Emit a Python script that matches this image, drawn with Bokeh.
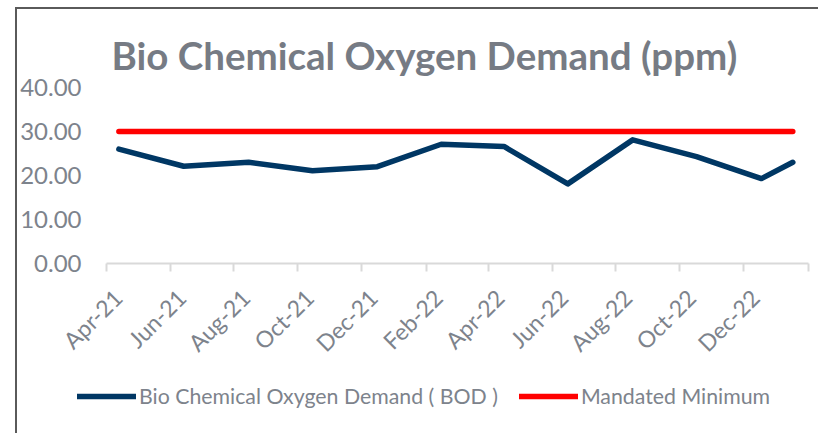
import pandas as pd
from bokeh.plotting import figure
from bokeh.models import (FixedTicker, DatetimeTickFormatter, DatetimeAxis, Legend, LegendItem,
                          Range1d, NumeralTickFormatter)
from bokeh.layouts import column
from bokeh.embed import file_html
from bokeh.resources import INLINE

# ---- data ----
dates = ["2021-04-13", "2021-06-14", "2021-08-15", "2021-10-15", "2021-12-16", "2022-02-15",
         "2022-04-16", "2022-06-16", "2022-08-17", "2022-10-17", "2022-12-18", "2023-01-17"]
bod = [26.0, 22.1, 23.0, 21.1, 22.0, 27.1, 26.6, 18.1, 28.1, 24.3, 19.3, 23.0]
mandated = [30, 30, 30, 30, 30, 30, 30, 30, 30, 30, 30, 30]
tick_dates = ["2021-04-01", "2021-06-01", "2021-08-01", "2021-10-01", "2021-12-01", "2022-02-01",
              "2022-04-01", "2022-06-01", "2022-08-01", "2022-10-01", "2022-12-01"]
end_tick = "2023-02-01"
y_ticks = [0, 10, 20, 30, 40]

title_text = "Bio Chemical Oxygen Demand (ppm)"
bod_name = "Bio Chemical Oxygen Demand ( BOD )"
min_name = "Mandated Minimum"

x = pd.to_datetime(dates)
to_ms = lambda s: pd.Timestamp(s).value / 1e6
DAY = 86400000.0

FONT = "Lato"
GRAY = "#7d838c"
NAVY = "#003764"
RED = "#ff0000"
BORDER = "2px solid #5a5a5a"

# the plot frame reaches a little left of the axis start so that the legend strip
# underneath (whose frame is aligned with this one) has room on the left
LEFT_PAD_DAYS = 39
x_start = to_ms(tick_dates[0]) - LEFT_PAD_DAYS * DAY
x_end = to_ms(end_tick)

p = figure(width=803, height=360, output_backend="svg", toolbar_location=None,
           x_axis_type="datetime",
           x_range=Range1d(x_start, x_end),
           y_range=Range1d(0, 40),
           min_border_left=47, min_border_right=12, min_border_top=78, min_border_bottom=102,
           styles={"margin-left": "15px", "margin-top": "7px",
                   "border-left": BORDER, "border-top": BORDER})

p.title.text = title_text
p.title.text_font = FONT
p.title.text_font_style = "bold"
p.title.text_font_size = "38.5px"
p.title.text_color = "#767b84"
p.title.align = "left"
p.title.offset = 46
p.title.standoff = 19

p.outline_line_color = None
p.xgrid.grid_line_color = None
p.ygrid.grid_line_color = None
p.background_fill_color = "white"
p.border_fill_color = "white"

p.line(x, bod, line_color=NAVY, line_width=5.5, line_join="round", line_cap="round")
p.line(x, mandated, line_color=RED, line_width=5.5, line_cap="round")

# main x axis: line + tick marks only, over the dated span
xa = p.xaxis[0]
xa.bounds = (to_ms(tick_dates[0]), x_end)
xa.ticker = FixedTicker(ticks=[], minor_ticks=[to_ms(d) for d in tick_dates + [end_tick]])
xa.axis_line_color = "#d9d9d9"
xa.axis_line_width = 2
xa.major_tick_line_color = None
xa.minor_tick_line_color = "#d9d9d9"
xa.minor_tick_line_width = 2
xa.minor_tick_in = 0
xa.minor_tick_out = 8
xa.major_label_standoff = 0

# label axis: rotated month labels, anchored like Excel (slightly right of each tick)
xl = DatetimeAxis(ticker=FixedTicker(ticks=[to_ms(d) + 11 * DAY for d in tick_dates]),
                  formatter=DatetimeTickFormatter(days="%b-%y", months="%b-%y", years="%b-%y"))
xl.axis_line_color = None
xl.major_tick_line_color = None
xl.minor_tick_line_color = None
xl.major_label_orientation = 0.785398
xl.major_label_text_font = FONT
xl.major_label_text_font_size = "23px"
xl.major_label_text_color = GRAY
xl.major_label_standoff = 16
p.add_layout(xl, "below")

ya = p.yaxis[0]
ya.ticker = FixedTicker(ticks=y_ticks)
ya.formatter = NumeralTickFormatter(format="0.00")
ya.axis_line_color = None
ya.major_tick_line_color = None
ya.minor_tick_line_color = None
ya.major_tick_out = 0
ya.major_label_text_font = FONT
ya.major_label_text_font_size = "24px"
ya.major_label_text_color = GRAY
ya.major_label_standoff = -16

# legend strip under the chart
p2 = figure(width=803, height=66, output_backend="svg", toolbar_location=None,
            x_axis_location=None, y_axis_location=None,
            x_range=Range1d(x_start, x_end),
            y_range=Range1d(100, 101),
            min_border=0, min_border_left=47, min_border_right=12,
            styles={"margin-left": "15px", "border-left": BORDER})
p2.outline_line_color = None
p2.xgrid.grid_line_color = None
p2.ygrid.grid_line_color = None
l_bod = p2.line(x, bod, line_color=NAVY, line_width=5.5, line_cap="round")
l_min = p2.line(x, mandated, line_color=RED, line_width=5.5, line_cap="round")

legend = Legend(items=[LegendItem(label=bod_name, renderers=[l_bod]),
                       LegendItem(label=min_name, renderers=[l_min])],
                orientation="horizontal", location=(12, 24),
                glyph_width=59, glyph_height=24, label_standoff=3, spacing=21,
                padding=0, margin=0, border_line_color=None, background_fill_alpha=0,
                label_text_font=FONT, label_text_font_size="21.3px", label_text_color=GRAY)
p2.add_layout(legend, "center")

page = column(p, p2, spacing=0)
open("out.html", "w").write(file_html(page, INLINE))
